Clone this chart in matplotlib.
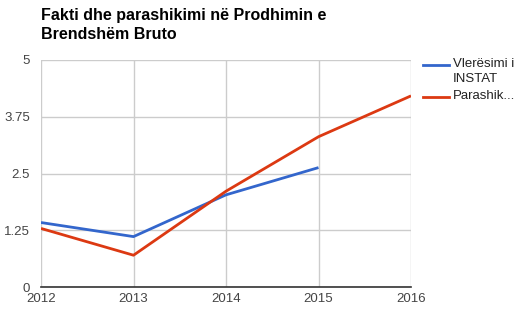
import matplotlib
matplotlib.use('Agg')
import matplotlib.pyplot as plt
from matplotlib.lines import Line2D

# data
years = [2012, 2013, 2014, 2015, 2016]
instat = [1.42, 1.11, 2.03, 2.63, None]
forecast = [1.29, 0.70, 2.11, 3.31, 4.21]
series_names = ['Vlerësimi i\nINSTAT', 'Parashik...']
yticks = [0, 1.25, 2.5, 3.75, 5]
ytick_labels = ['0', '1.25', '2.5', '3.75', '5']
title = 'Fakti dhe parashikimi në Prodhimin e\nBrendshëm Bruto'
colors = ['#3366cc', '#dc3912']

plt.rcParams['font.family'] = ['Liberation Sans', 'DejaVu Sans']

W, H = 524, 317
fig = plt.figure(figsize=(W / 100, H / 100), dpi=100)
ax = fig.add_axes([41 / W, 1 - 287 / H, (411 - 41) / W, (287 - 60) / H])

# INSTAT series stops at 2015
x1 = [y for y, v in zip(years, instat) if v is not None]
y1 = [v for v in instat if v is not None]
ax.plot(x1, y1, color=colors[0], lw=2, solid_capstyle='butt', zorder=3)
ax.plot(years, forecast, color=colors[1], lw=2, solid_capstyle='butt', zorder=3)

ax.set_xlim(years[0], years[-1])
ax.set_ylim(0, 5)
ax.set_xticks(years)
ax.set_xticklabels([str(y) for y in years])
ax.set_yticks(yticks)
ax.set_yticklabels(ytick_labels)
ax.grid(True, color='#cccccc', lw=1)
ax.set_axisbelow(True)
for s in ['top', 'right', 'left']:
    ax.spines[s].set_visible(False)
ax.spines['bottom'].set_color('#333333')
ax.spines['bottom'].set_linewidth(1.2)
ax.tick_params(length=0, labelsize=9.5, colors='#444444', pad=4)
ax.tick_params(axis='y', pad=8)

fig.text(41 / W, 1 - 8 / H, title, ha='left', va='top', fontsize=11.5,
         fontweight='bold', color='#000000', linespacing=1.3)

# legend on the right
leg_y = [65, 97]
for c, name, yy in zip(colors, series_names, leg_y):
    fig.add_artist(Line2D([423 / W, 449 / W], [1 - yy / H, 1 - yy / H],
                          transform=fig.transFigure, color=c, lw=2))
    fig.text(453 / W, 1 - (yy - 7) / H, name, ha='left', va='top',
             fontsize=9.5, color='#222222', linespacing=1.35)

fig.savefig('out.png', dpi=100)
